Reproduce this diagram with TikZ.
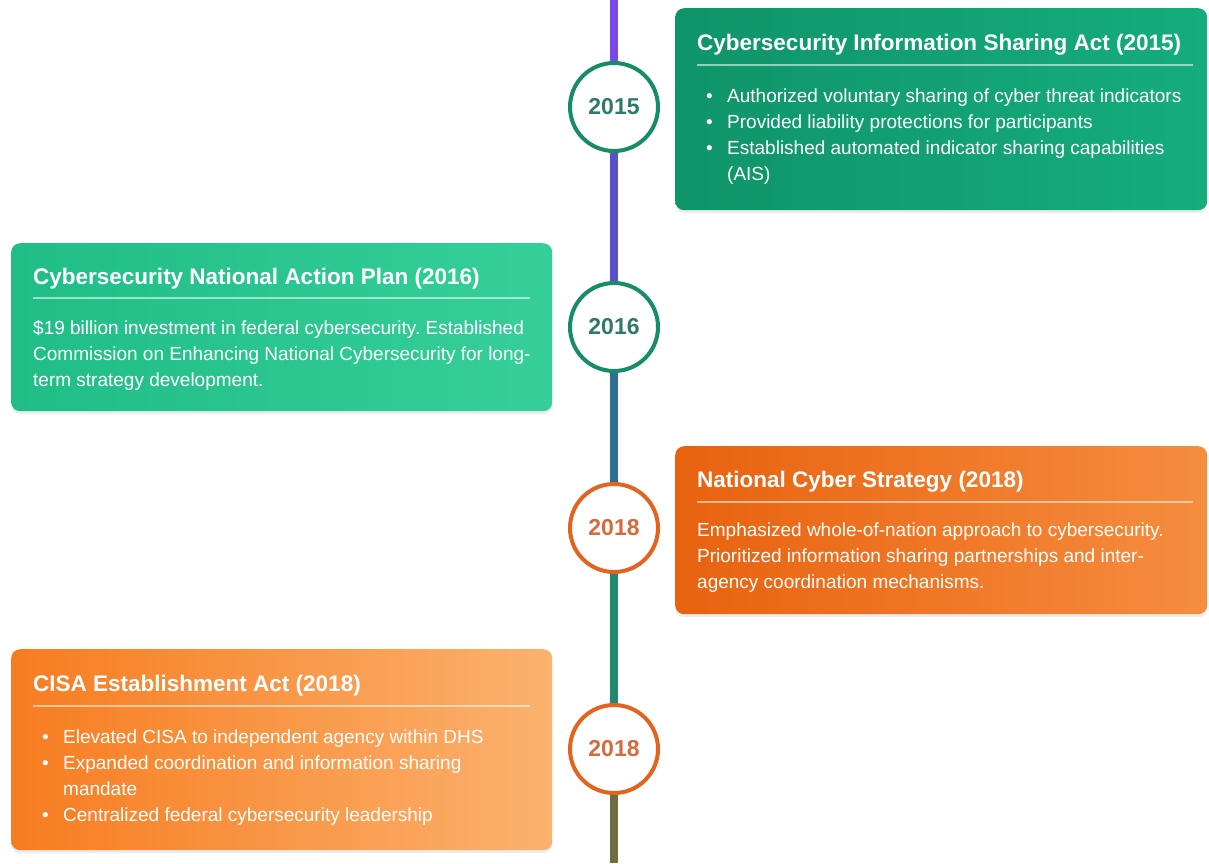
\documentclass[tikz,border=0pt]{standalone}
\usepackage{fontspec}
\setmainfont{Liberation Sans}
\usepackage{xcolor}
\usetikzlibrary{shadows,calc}
\frenchspacing

\definecolor{violet}{HTML}{7A48E6}
\definecolor{indigo}{HTML}{5B50CC}
\definecolor{steel}{HTML}{2D6E92}
\definecolor{teal}{HTML}{1F8A70}
\definecolor{olive}{HTML}{6E6D40}
\definecolor{gdark}{HTML}{0F9468}
\definecolor{glight}{HTML}{15AD7D}
\definecolor{mdark}{HTML}{20BD87}
\definecolor{mlight}{HTML}{36CF99}
\definecolor{odark}{HTML}{E8620F}
\definecolor{olight}{HTML}{F68D3F}
\definecolor{adark}{HTML}{F77C20}
\definecolor{alight}{HTML}{FBB26E}
\definecolor{ring}{HTML}{178C69}
\definecolor{ringtext}{HTML}{2F7A68}
\definecolor{oring}{HTML}{E2641F}
\definecolor{oringtext}{HTML}{D66A3A}

\tikzset{
  card/.style={rounded corners=9pt, anchor=north west, inner sep=0pt,
    drop shadow={opacity=.15, shadow xshift=0pt, shadow yshift=-3pt}},
  yearnode/.style={circle, fill=white, line width=4pt, minimum size=88pt,
    inner sep=0pt, font=\fontsize{23}{23}\selectfont\bfseries},
  cardtitle/.style={anchor=base west, inner sep=0pt, text=white,
    font=\fontsize{22.5}{27}\selectfont\bfseries},
  cardbody/.style={anchor=base west, inner sep=0pt, text=white, align=left,
    font=\fontsize{19}{26}\selectfont},
  titlerule/.style={white, opacity=.55, line width=2.5pt},
  spine/.style={line width=8pt},
}
\newcommand{\bl}[1]{\makebox[21pt][l]{\textbullet}#1}
\newcommand{\blcont}[1]{\hspace*{21pt}#1}

\begin{document}
\begin{tikzpicture}[x=1pt, y=-1pt]
  \useasboundingbox (0,0) rectangle (1209,863);
  \fill[white] (0,0) rectangle (1209,863);

  % timeline ends
  \coordinate (top) at (614,0);
  \coordinate (bottom) at (614,863);

  % year markers
  \node[yearnode, draw=ring, text=ringtext] (y15) at (614,107) {2015};
  \node[yearnode, draw=ring, text=ringtext] (y16) at (614,327) {2016};
  \node[yearnode, draw=oring, text=oringtext] (y18a) at (614,528) {2018};
  \node[yearnode, draw=oring, text=oringtext] (y18b) at (614,749) {2018};

  % spine
  \draw[spine, violet] (top) -- (y15);
  \draw[spine, indigo] (y15) -- (y16);
  \draw[spine, steel] (y16) -- (y18a);
  \draw[spine, teal] (y18a) -- (y18b);
  \draw[spine, olive] (y18b) -- (bottom);

  % 2015 card (body anchored at its last baseline)
  \node[card, left color=gdark, right color=glight, minimum width=532pt, minimum height=202pt] (cisa15) at (675,8) {};
  \node[cardtitle] (t15) at (697,50) {Cybersecurity Information Sharing Act (2015)};
  \draw[titlerule] ($(cisa15.north west)+(22,57)$) -- ($(cisa15.north east)+(-14,57)$);
  \node[cardbody] (b15) at (706,180) {\bl{Authorized voluntary sharing of cyber threat indicators}\\
    \bl{Provided liability protections for participants}\\
    \bl{Established automated indicator sharing capabilities}\\
    \blcont{(AIS)}};

  % 2016 card
  \node[card, left color=mdark, right color=mlight, minimum width=541pt, minimum height=168pt] (cnap16) at (11,243) {};
  \node[cardtitle] (t16) at (33,284) {Cybersecurity National Action Plan (2016)};
  \draw[titlerule] ($(cnap16.north west)+(22,55)$) -- ($(cnap16.north east)+(-22,55)$);
  \node[cardbody] (b16) at (33,386) {\$19 billion investment in federal cybersecurity. Established\\
    Commission on Enhancing National Cybersecurity for long-\\
    term strategy development.};

  % 2018 strategy card
  \node[card, left color=odark, right color=olight, minimum width=532pt, minimum height=168pt] (ncs18) at (675,446) {};
  \node[cardtitle] (t18a) at (697,487) {National Cyber Strategy (2018)};
  \draw[titlerule] ($(ncs18.north west)+(22,56)$) -- ($(ncs18.north east)+(-14,56)$);
  \node[cardbody] (b18a) at (697,588) {Emphasized whole-of-nation approach to cybersecurity.\\
    Prioritized information sharing partnerships and inter-\\
    agency coordination mechanisms.};

  % 2018 CISA card
  \node[card, left color=adark, right color=alight, minimum width=541pt, minimum height=201pt] (cisa18) at (11,649) {};
  \node[cardtitle] (t18b) at (33,691) {CISA Establishment Act (2018)};
  \draw[titlerule] ($(cisa18.north west)+(22,57)$) -- ($(cisa18.north east)+(-22,57)$);
  \node[cardbody] (b18b) at (42,821) {\bl{Elevated CISA to independent agency within DHS}\\
    \bl{Expanded coordination and information sharing}\\
    \blcont{mandate}\\
    \bl{Centralized federal cybersecurity leadership}};
\end{tikzpicture}
\end{document}
